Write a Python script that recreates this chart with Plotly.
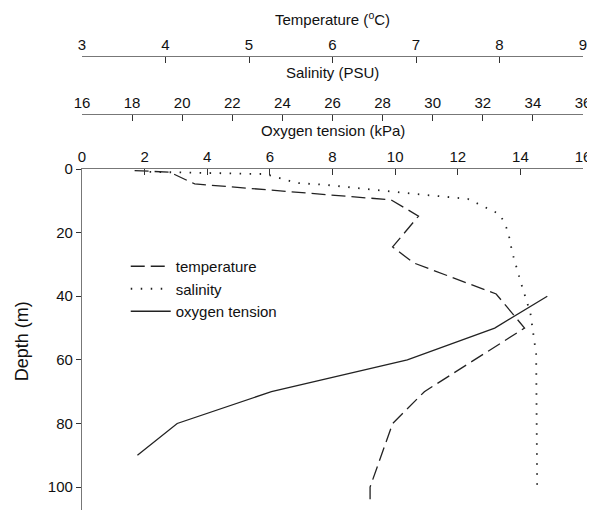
import plotly.graph_objects as go

# ---- data ----
temp_depth = [0.5, 1, 4.7, 9.7, 14.8, 24.5, 29.5, 39.3, 50, 70, 80, 100, 105]
temp_values = [3.63, 4.05, 4.35, 6.70, 7.03, 6.72, 6.97, 7.96, 8.30, 7.10, 6.72, 6.45, 6.45]

sal_depth = [0.9, 1.6, 4.4, 5.0, 7.9, 9.4, 14.2, 17, 20.1, 26.4, 36.2, 45.3, 58.2, 100]
sal_values = [18.70, 23.34, 24.57, 25.76, 29.37, 31.40, 32.67, 32.87, 33.02, 33.18,
              33.54, 33.90, 34.13, 34.17]

oxy_depth = [40, 50, 60, 70, 80, 90]
oxy_values = [14.86, 13.18, 10.39, 6.05, 3.04, 1.77]

temp_ticks = [3, 4, 5, 6, 7, 8, 9]
sal_ticks = [16, 18, 20, 22, 24, 26, 28, 30, 32, 34, 36]
oxy_ticks = [0, 2, 4, 6, 8, 10, 12, 14, 16]
depth_ticks = [0, 20, 40, 60, 80, 100]

FONT = "Liberation Sans, Arial, sans-serif"
LINE = "#222222"
AXIS = "#777777"

# the page body adds an 8px offset; figure is sized to fit the window
OFF = 8
FIG_W, FIG_H = 595 - OFF, 514 - OFF
PLOT_L, PLOT_R = 82, 586          # page px of x axis ends
PLOT_T, PLOT_B = 56, 510          # page px of top axis line / bottom of y axis
H_PLOT = PLOT_B - PLOT_T
W_PLOT = PLOT_R - PLOT_L


def py(ypx):
    return (PLOT_B - ypx) / H_PLOT


def px(xpx):
    return (xpx - PLOT_L) / W_PLOT


fig = go.Figure()
fig.add_trace(go.Scatter(x=temp_values, y=temp_depth, xaxis="x3", yaxis="y",
                         mode="lines", name="temperature",
                         line=dict(color=LINE, width=1.3, dash="14px,6px")))
fig.add_trace(go.Scatter(x=sal_values, y=sal_depth, xaxis="x2", yaxis="y",
                         mode="lines", name="salinity",
                         line=dict(color=LINE, width=1.8, dash="1.5px,8.5px")))
fig.add_trace(go.Scatter(x=oxy_values, y=oxy_depth, xaxis="x", yaxis="y",
                         mode="lines", name="oxygen tension",
                         line=dict(color=LINE, width=1.3)))

common = dict(showline=True, linecolor=AXIS, linewidth=1.2, ticks="inside",
              ticklen=6, tickcolor="#333333", tickwidth=1.2, showgrid=False,
              zeroline=False, side="top", ticklabeloverflow="allow",
              tickfont=dict(family=FONT, size=15, color="#111111"))

fig.update_layout(
    width=FIG_W, height=FIG_H,
    margin=dict(l=PLOT_L - OFF, r=FIG_W - (PLOT_R - OFF), t=PLOT_T - OFF,
                b=FIG_H - (PLOT_B - OFF)),
    paper_bgcolor="white", plot_bgcolor="white",
    showlegend=True,
    legend=dict(x=px(126), y=py(250), xanchor="left", yanchor="top", itemwidth=40,
                bgcolor="rgba(0,0,0,0)", font=dict(family=FONT, size=15, color="#111111"),
                tracegroupgap=0),
    xaxis=dict(range=[0, 16], tickvals=oxy_ticks, anchor="y", domain=[0, 1], **common),
    xaxis2=dict(range=[16, 36], tickvals=sal_ticks, overlaying="x", anchor="free",
                position=py(114), **common),
    xaxis3=dict(range=[3, 9], tickvals=temp_ticks, overlaying="x", anchor="free",
                position=1.0, **common),
    yaxis=dict(range=[107.2, 0], domain=[0, py(169)], tickvals=depth_ticks,
               showline=True, linecolor=AXIS, linewidth=1.2, ticks="outside",
               ticklen=5, tickcolor="#333333", showgrid=False, zeroline=False,
               tickfont=dict(family=FONT, size=15, color="#111111")),
)


def ann(text, xpx, ypx, size=15, angle=0):
    fig.add_annotation(text=text, x=px(xpx), y=py(ypx), xref="paper", yref="paper",
                       showarrow=False, xanchor="center", yanchor="middle", textangle=angle,
                       font=dict(family=FONT, size=size, color="#111111"))


ann("Temperature (<sup>o</sup>C)", 334, 18)
ann("Salinity (PSU)", 334, 72)
ann("Oxygen tension (kPa)", 334, 131)
ann("Depth (m)", 22, 341, size=18, angle=-90)

fig.write_html("out.html")
